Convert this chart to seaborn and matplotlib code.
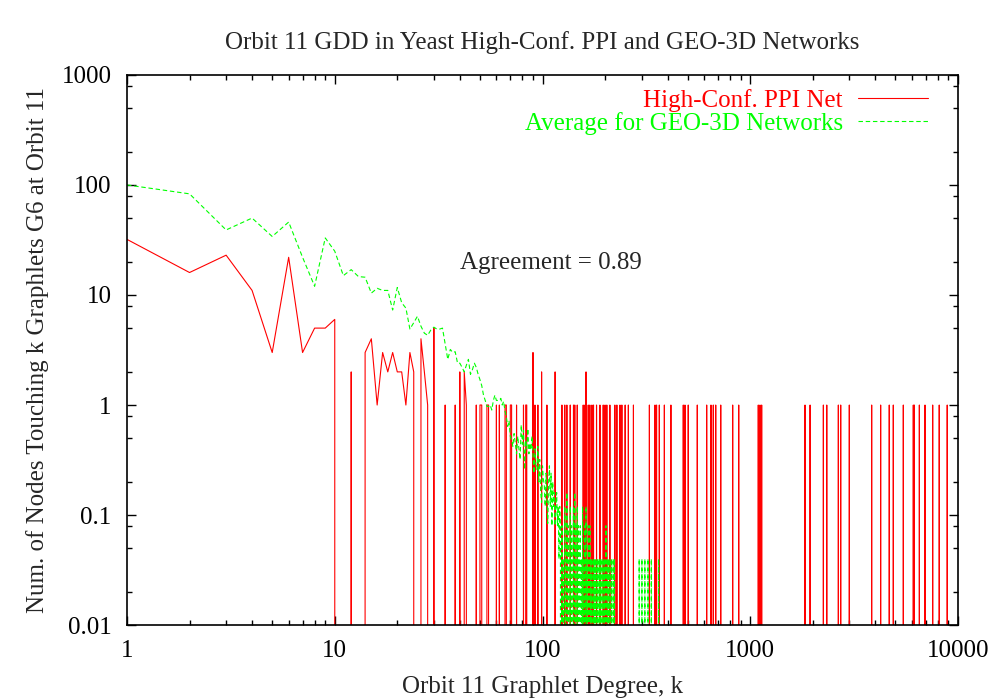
import numpy as np
import pandas as pd
import matplotlib
matplotlib.use("Agg")
import matplotlib.pyplot as plt
from matplotlib.ticker import LogLocator, NullFormatter
import seaborn as sns

sns.set_style("ticks")
plt.rcParams['font.family'] = ['Liberation Serif', 'DejaVu Serif']

# High-Conf. PPI net: degrees k with a non-zero count (all other k are 0)
red_k = [1, 2, 3, 4, 5, 6, 7, 8, 9, 10, 12, 14, 15, 16, 17, 18, 19, 20, 21, 22, 23, 24,
         26, 27, 28, 30, 34, 38, 40, 42, 43, 48, 50, 51, 54, 55, 60, 62, 66, 67, 70, 71,
         75, 81, 83, 84, 90, 92, 95, 99, 105, 115, 124, 128, 131, 136, 141, 143, 147,
         157, 160, 162, 166, 169, 173, 176, 182, 189, 196, 200, 204, 211, 223, 228, 236,
         241, 250, 259, 274, 327, 348, 354, 365, 386, 415, 476, 485, 503, 556, 617, 647,
         664, 682, 721, 823, 880, 1093, 1114, 1135, 1835, 1941, 2249, 2335, 2655, 2725,
         2998, 3841, 4243, 4668, 4882, 5455, 6093, 6163, 6516, 6937, 7553, 8123, 8874]
red_v = [32, 16, 23, 11, 3, 22, 3, 5, 5, 6, 2, 3, 4, 1, 3, 2, 3, 2, 2, 1, 3, 2,
         4, 2, 1, 5, 1, 1, 2, 2, 1, 1, 1, 1, 1, 1, 1, 1, 1, 1, 1, 1,
         1, 1, 1, 1, 3, 1, 1, 2, 1, 2, 1, 1, 1, 1, 1, 1, 1,
         1, 1, 2, 1, 1, 1, 1, 1, 1, 1, 1, 1, 1, 1, 1, 1,
         1, 1, 1, 1, 1, 1, 1, 1, 1, 1, 1, 1, 1, 1, 1, 1,
         1, 1, 1, 1, 1, 1, 1, 1, 1, 1, 1, 1, 1, 1,
         1, 1, 1, 1, 1, 1, 1, 1, 1, 1, 1, 1, 1]

# Average for GEO-3D networks, k = 1..122
green_head = [100, 83, 39, 50, 34, 46, 22, 12, 33, 25, 15, 17, 14.7, 14.5, 10.4, 11.5,
              11, 11, 7.3, 11.7, 8.5, 7.6, 4.9, 5.6, 6.4, 5.2, 4.5, 4.3, 4.8, 5.1,
              4.9, 4.9, 5.0, 3.6, 2.6, 3.2, 3.0, 3.05, 2.4, 2.4, 2.2, 2.0, 2.3, 2.6,
              1.9, 2.1, 2.4, 2.2, 1.9, 1.7, 1.5, 1.23, 1.1, 0.97, 0.97, 1.0, 0.9, 1.1,
              1.23, 1.1, 1.1, 1.1, 1.15, 1.0, 1.08, 0.88, 0.78, 0.64, 0.72, 0.52, 0.48,
              0.42, 0.55, 0.44, 0.36, 0.52, 0.4, 0.32, 0.66, 0.44, 0.59, 0.26, 0.48,
              0.4, 0.61, 0.36, 0.45, 0.39, 0.52, 0.34, 0.24, 0.4, 0.28, 0.26, 0.42,
              0.2, 0.32, 0.16, 0.13, 0.28, 0.21, 0.19, 0.12, 0.24, 0.147, 0.084, 0.2,
              0.28, 0.12, 0.24, 0.08, 0.2, 0.12, 0.16, 0.08, 0.12, 0.16, 0.08, 0.12,
              0.04, 0.12, 0.08]
# beyond k = 122 only the non-zero averages
green_tail_k = [124, 126, 128, 129, 131, 133, 134, 136, 138, 140, 141, 143, 145, 147, 149,
                151, 152, 154, 156, 158, 160, 162, 164, 166, 167, 169, 171, 173, 176, 178,
                180, 183, 185, 188, 190, 193, 196, 199, 202, 205, 208, 211, 215, 219, 222,
                292, 301, 311, 322, 334, 362]
green_tail_v = [0.08, 0.04, 0.12, 0.04, 0.16, 0.08, 0.04, 0.12, 0.08, 0.04, 0.12, 0.16,
                0.08, 0.12, 0.08, 0.04, 0.08, 0.04, 0.12, 0.04, 0.08, 0.12, 0.04, 0.08,
                0.04, 0.08, 0.04, 0.04, 0.04, 0.04, 0.04, 0.04, 0.04, 0.04, 0.04, 0.04,
                0.04, 0.04, 0.08, 0.04, 0.04, 0.04, 0.04, 0.04, 0.04,
                0.04, 0.04, 0.04, 0.04, 0.04, 0.04]

# full distributions (degrees with no nodes have count 0)
red_x = np.arange(1, 8876)
red_y = np.zeros(len(red_x))
red_y[np.array(red_k) - 1] = red_v

green_x = np.arange(1, 365)
green_y = np.zeros(len(green_x))
green_y[:len(green_head)] = green_head
green_y[np.array(green_tail_k) - 1] = green_tail_v

df_red = pd.DataFrame({'k': red_x, 'n': red_y})
df_green = pd.DataFrame({'k': green_x, 'n': green_y})

fig, ax = plt.subplots(figsize=(10, 7), dpi=100)
fig.subplots_adjust(left=0.127, right=0.958, top=0.893, bottom=0.107)

sns.lineplot(data=df_red, x='k', y='n', color='#ff0000', lw=0.8,
             label='High-Conf. PPI Net', ax=ax)
sns.lineplot(data=df_green, x='k', y='n', color='#00ff00', lw=0.8,
             dashes=False, label='Average for GEO-3D Networks', ax=ax)
ax.lines[1].set_dashes([4, 2.5])

ax.set_xscale('log')
ax.set_yscale('log')
ax.set_xlim(1, 10000)
ax.set_ylim(0.01, 1000)

ax.set_xticks([1, 10, 100, 1000, 10000], labels=['1', '10', '100', '1000', '10000'])
ax.set_yticks([0.01, 0.1, 1, 10, 100, 1000],
              labels=['0.01', '0.1', '1', '10', '100', '1000'])
ax.xaxis.set_minor_locator(LogLocator(base=10, subs=np.arange(2, 10), numticks=20))
ax.yaxis.set_minor_locator(LogLocator(base=10, subs=[2, 5, 8], numticks=20))
ax.xaxis.set_minor_formatter(NullFormatter())
ax.yaxis.set_minor_formatter(NullFormatter())
ax.tick_params(which='both', direction='in', top=True, right=True, width=1.0,
               labelsize=18, colors='black')
ax.tick_params(which='major', length=6.5, pad=11)
ax.tick_params(which='minor', length=3.6)
for s in ax.spines.values():
    s.set_linewidth(1.2)
    s.set_color('black')

ax.set_xlabel('Orbit 11 Graphlet Degree, k', fontsize=18, labelpad=10)
ax.set_ylabel('Num. of Nodes Touching k Graphlets G6 at Orbit 11', fontsize=18, labelpad=9)
ax.set_title('Orbit 11 GDD in Yeast High-Conf. PPI and GEO-3D Networks',
             fontsize=18, pad=19)
ax.text(0.401, 0.658, 'Agreement = 0.89', transform=ax.transAxes, fontsize=18,
        ha='left', va='center')

leg = ax.legend(loc='upper right', frameon=False, markerfirst=False,
                labelcolor='linecolor', fontsize=18, handlelength=2.8,
                handletextpad=0.6, labelspacing=0.0, borderaxespad=0.15,
                bbox_to_anchor=(0.98, 1.0))

plt.savefig('out.png', dpi=100)
